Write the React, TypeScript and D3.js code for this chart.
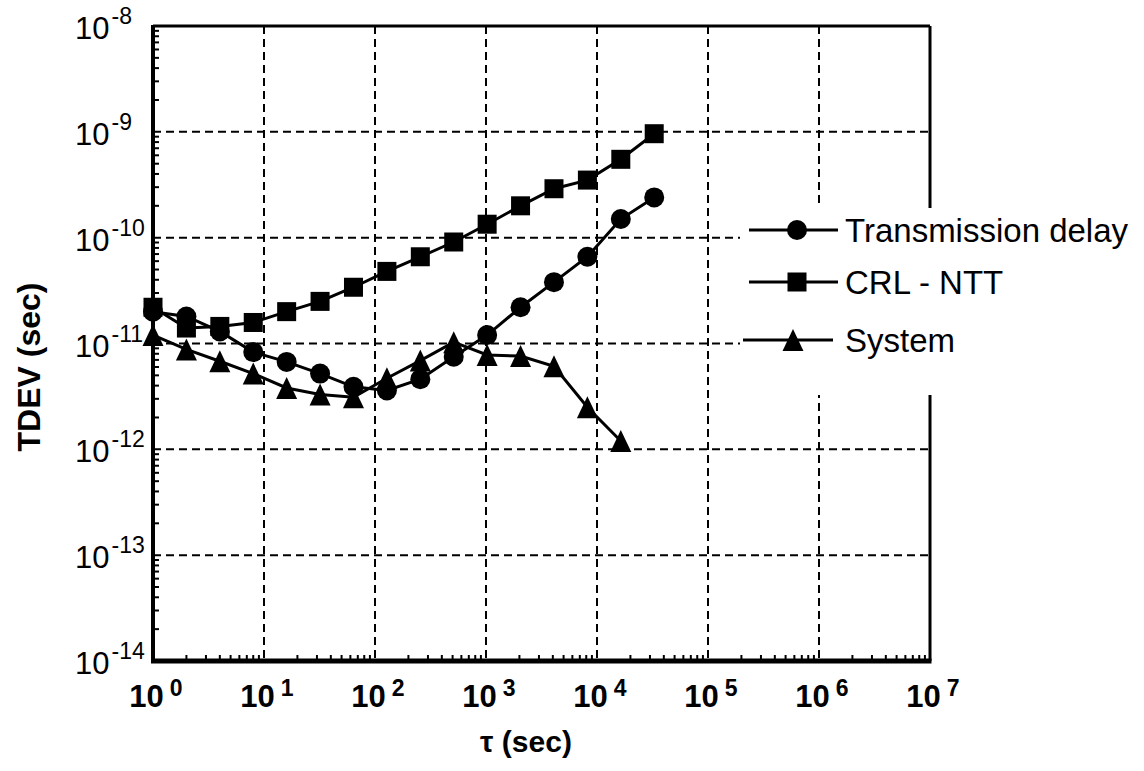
import React from "react";
import * as d3 from "d3";

const tau = [1, 2, 4, 8, 16, 32, 64, 128, 256, 512, 1024, 2048, 4096, 8192, 16384, 32768];
const transmission = [2.0e-11, 1.8e-11, 1.3e-11, 8.3e-12, 6.7e-12, 5.2e-12, 3.9e-12, 3.6e-12, 4.6e-12, 7.5e-12, 1.2e-11, 2.2e-11, 3.8e-11, 6.6e-11, 1.5e-10, 2.4e-10];
const crlNtt = [2.2e-11, 1.4e-11, 1.45e-11, 1.58e-11, 2.0e-11, 2.5e-11, 3.4e-11, 4.8e-11, 6.6e-11, 9.1e-11, 1.34e-10, 2.0e-10, 2.9e-10, 3.5e-10, 5.5e-10, 9.6e-10];
const systemTau = [1, 2, 4, 8, 16, 32, 64, 128, 256, 512, 1024, 2048, 4096, 8192, 16384];
const system = [1.2e-11, 8.8e-12, 6.8e-12, 5.2e-12, 3.8e-12, 3.3e-12, 3.1e-12, 4.7e-12, 6.9e-12, 1.03e-11, 7.8e-12, 7.6e-12, 6.1e-12, 2.5e-12, 1.2e-12];

const xTickExps = [0, 1, 2, 3, 4, 5, 6, 7];
const yTickExps = [-8, -9, -10, -11, -12, -13, -14];
const legendLabels = ["Transmission delay", "CRL - NTT", "System"];

const W = 1144;
const H = 771;
const FONT = "'Liberation Sans', Arial, Helvetica, sans-serif";

const x = d3.scaleLog().domain([1, 1e7]).range([153, 930]);
const y = d3.scaleLog().domain([1e-14, 1e-8]).range([661, 26]);

type Shape = "circle" | "square" | "triangle";

function Marker({ cx, cy, shape }: { cx: number; cy: number; shape: Shape }) {
  if (shape === "circle") return <circle cx={cx} cy={cy} r={10} fill="#000" />;
  if (shape === "square") return <rect x={cx - 9.5} y={cy - 9.5} width={19} height={19} fill="#000" />;
  const w = 21, h = 22;
  return <path d={`M${cx},${cy - h / 2} L${cx + w / 2},${cy + h / 2} L${cx - w / 2},${cy + h / 2} Z`} fill="#000" />;
}

export default function App() {
  const [x0, x1] = x.range();
  const [yb, yt] = y.range();
  const majorsX = xTickExps.map((e) => Math.pow(10, e));
  const majorsY = yTickExps.map((e) => Math.pow(10, e));
  const isMajor = (v: number) => Math.abs(Math.log10(v) - Math.round(Math.log10(v))) < 1e-9;
  const minorX = x.ticks().filter((v) => !isMajor(v));
  const minorY = y.ticks().filter((v) => !isMajor(v));

  const line = d3
    .line<[number, number]>()
    .x((d) => x(d[0]))
    .y((d) => y(d[1]));

  const series: { t: number[]; v: number[]; shape: Shape }[] = [
    { t: tau, v: transmission, shape: "circle" },
    { t: tau, v: crlNtt, shape: "square" },
    { t: systemTau, v: system, shape: "triangle" },
  ];

  const legendRows = [
    { y: 230, shape: "circle" as Shape, lx0: 749, lx1: 838, mx: 797 },
    { y: 282, shape: "square" as Shape, lx0: 749, lx1: 838, mx: 797 },
    { y: 340, shape: "triangle" as Shape, lx0: 743, lx1: 833, mx: 793 },
  ];

  return (
    <svg width={W} height={H} style={{ position: "absolute", left: 0, top: 0, background: "#fff" }} fontFamily={FONT}>
      <rect x={0} y={0} width={W} height={H} fill="#fff" />
      {/* grid */}
      {majorsX.slice(1, -1).map((v) => (
        <line key={"gx" + v} x1={x(v)} x2={x(v)} y1={yt} y2={yb} stroke="#000" strokeWidth={2} strokeDasharray="8 5" />
      ))}
      {majorsY.slice(1, -1).map((v) => (
        <line key={"gy" + v} x1={x0} x2={x1} y1={y(v)} y2={y(v)} stroke="#000" strokeWidth={2} strokeDasharray="8 5" />
      ))}
      {/* minor ticks */}
      {minorX.map((v) => (
        <line key={"mx" + v} x1={x(v)} x2={x(v)} y1={yb} y2={yb - 6} stroke="#000" strokeWidth={2} />
      ))}
      {minorY.map((v) => (
        <line key={"my" + v} x1={x0} x2={x0 + 6} y1={y(v)} y2={y(v)} stroke="#000" strokeWidth={2} />
      ))}
      {/* frame */}
      <line x1={x0} x2={x1} y1={yt} y2={yt} stroke="#000" strokeWidth={3} />
      <line x1={x1} x2={x1} y1={yt} y2={yb} stroke="#000" strokeWidth={3} />
      <line x1={x0} x2={x0} y1={yt - 1} y2={yb + 2} stroke="#000" strokeWidth={4} />
      <line x1={x0 - 2} x2={x1 + 1.5} y1={yb} y2={yb} stroke="#000" strokeWidth={5} />
      {/* legend background */}
      <rect x={740} y={208} width={W - 740} height={187} fill="#fff" />
      {/* series */}
      {series.map((s, i) => (
        <g key={"s" + i}>
          <path d={line(s.t.map((t, j) => [t, s.v[j]] as [number, number])) || ""} fill="none" stroke="#000" strokeWidth={3} />
          {s.t.map((t, j) => (
            <Marker key={j} cx={x(t)} cy={y(s.v[j])} shape={s.shape} />
          ))}
        </g>
      ))}
      {/* y tick labels */}
      {yTickExps.map((e) => (
        <text key={"yl" + e} x={75} y={y(Math.pow(10, e)) + 13} textAnchor="start" fontSize={31} fill="#000">
          <tspan>10</tspan>
          <tspan fontSize={23} dx={2} dy={-15}>{String(e)}</tspan>
        </text>
      ))}
      {/* x tick labels */}
      {xTickExps.map((e) => (
        <text key={"xl" + e} x={x(Math.pow(10, e)) + 3} y={707} textAnchor="middle" fontSize={31} fontWeight="bold" fill="#000">
          <tspan>10</tspan>
          <tspan fontSize={23} dx={6} dy={-11}>{String(e)}</tspan>
        </text>
      ))}
      {/* axis titles */}
      <text x={526} y={752} textAnchor="middle" fontSize={30} fontWeight="bold" fill="#000">τ (sec)</text>
      <text transform="translate(40,367) rotate(-90)" textAnchor="middle" fontSize={32} fontWeight="bold" fill="#000">TDEV (sec)</text>
      {/* legend */}
      {legendRows.map((r, i) => (
        <g key={"lg" + i}>
          <line x1={r.lx0} x2={r.lx1} y1={r.y} y2={r.y} stroke="#000" strokeWidth={3} />
          <Marker cx={r.mx} cy={r.y} shape={r.shape} />
          <text x={845} y={r.y + 12} fontSize={33} fill="#000">{legendLabels[i]}</text>
        </g>
      ))}
    </svg>
  );
}
